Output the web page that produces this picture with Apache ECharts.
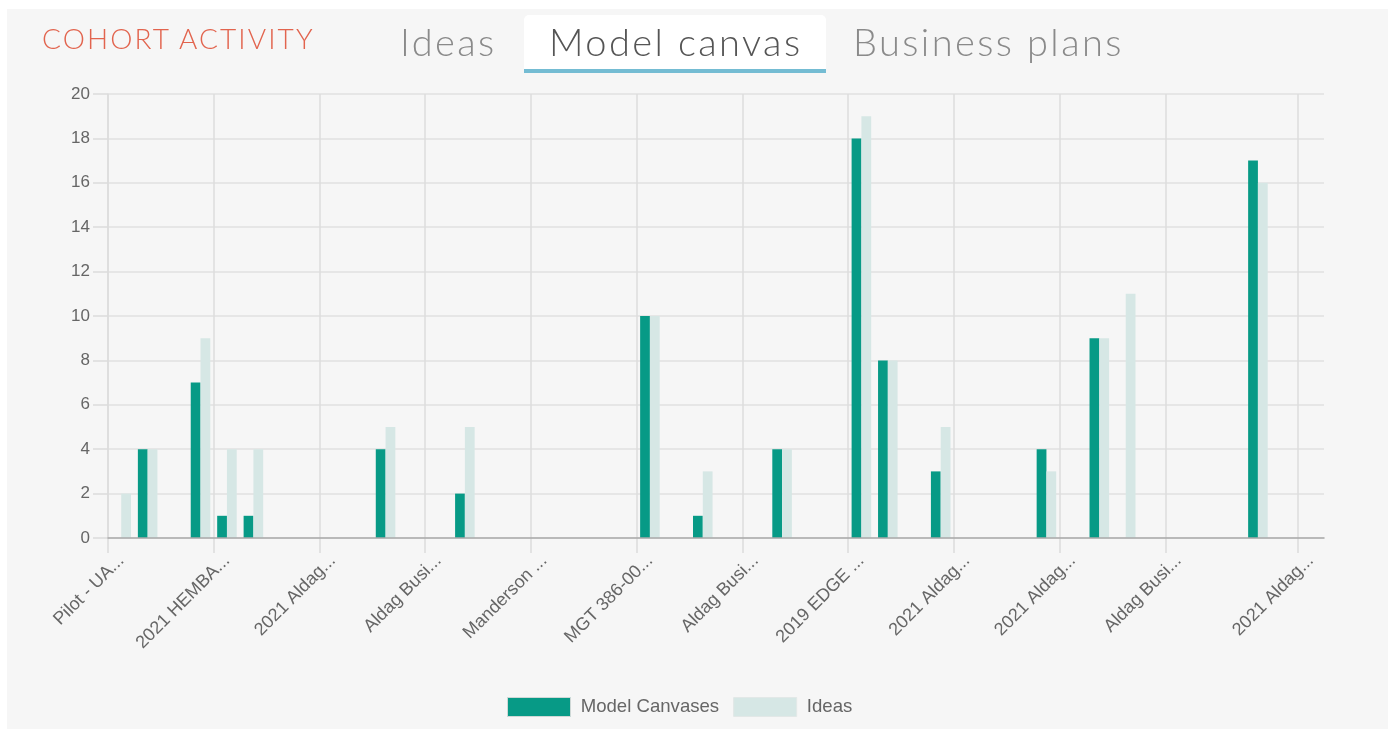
<!DOCTYPE html>
<html>
<head>
<meta charset="utf-8">
<script src="https://cdn.jsdelivr.net/npm/echarts@6/dist/echarts.min.js"></script>
<style>
  html, body { margin: 0; padding: 0; background: #ffffff; width: 1393px; height: 729px; overflow: hidden; }
  #panel { position: absolute; left: 7px; top: 9px; width: 1381px; height: 720px; background: #f6f6f6; }
  #chart { position: absolute; left: 0; top: 0; width: 1393px; height: 729px; }
  .hdr { position: absolute; font-family: Lato, "Open Sans", sans-serif; font-weight: 300; white-space: nowrap; z-index: 5; }
  #title { left: 42px; top: 22px; font-size: 28px; line-height: 32px; color: #e2644e; letter-spacing: 2.1px; }
  .tab { font-size: 38px; line-height: 44px; top: 19px; color: #8a8a8a; letter-spacing: 2.4px; }
  #tabActiveBox { position: absolute; left: 524px; top: 15px; width: 302px; height: 54px; background: #ffffff; border-radius: 5px 5px 0 0; border-bottom: 4px solid #74bcd3; z-index: 4; }
  #tabIdeas { left: 400px; }
  #tabModel { left: 549px; color: #555555; }
  #tabBiz { left: 853px; }
</style>
</head>
<body>
<div id="panel"></div>
<div id="tabActiveBox"></div>
<div class="hdr" id="title">COHORT ACTIVITY</div>
<div class="hdr tab" id="tabIdeas">Ideas</div>
<div class="hdr tab" id="tabModel">Model canvas</div>
<div class="hdr tab" id="tabBiz">Business plans</div>
<div id="chart"></div>
<script>
// ---- data ----
const categories = [
  'Pilot - UA...', '2021 Aldag...', 'Aldag Busi...', '2021 Aldag...',
  '2021 HEMBA...', '2021 Aldag...', 'Aldag Busi...', '2020 Aldag...',
  '2021 Aldag...', 'Aldag Busi...', '2021 Aldag...', '2020 EDGE ...',
  'Aldag Busi...', '2021 Aldag...', '2021 Aldag...', 'Aldag Busi...',
  'Manderson ...', '2021 Aldag...', 'Aldag Busi...', '2020 Aldag...',
  'MGT 386-00...', '2021 Aldag...', 'Aldag Busi...', '2021 Aldag...',
  'Aldag Busi...', '2021 Aldag...', '2020 EDGE ...', '2021 Aldag...',
  '2019 EDGE ...', '2021 Aldag...', 'Aldag Busi...', '2021 Aldag...',
  '2021 Aldag...', 'Aldag Busi...', '2021 Aldag...', '2021 Aldag...',
  '2021 Aldag...', 'Aldag Busi...', '2021 Aldag...', '2021 Aldag...',
  'Aldag Busi...', '2021 Aldag...', 'Aldag Busi...', '2021 Aldag...',
  'Aldag Busi...', '2021 Aldag...'
];
const modelCanvases = [
  0, 4, 0, 7, 1, 1, 0, 0, 0, 0,
  4, 0, 0, 2, 0, 0, 0, 0, 0, 0,
  10, 0, 1, 0, 0, 4, 0, 0, 18, 8,
  0, 3, 0, 0, 0, 4, 0, 9, 0, 0,
  0, 0, 0, 17, 0, 0
];
const ideas = [
  2, 4, 0, 9, 4, 4, 0, 0, 0, 0,
  5, 0, 0, 5, 0, 0, 0, 0, 0, 0,
  10, 0, 3, 0, 0, 4, 0, 0, 19, 8,
  0, 5, 0, 0, 0, 3, 0, 9, 11, 0,
  0, 0, 0, 16, 0, 0
];
const labeledIndices = [0, 4, 8, 12, 16, 20, 24, 28, 32, 36, 40, 45];
const yTicks = [0, 2, 4, 6, 8, 10, 12, 14, 16, 18, 20];

// ---- chart ----
const shown = new Set(labeledIndices);
const showFn = (i) => shown.has(i);
// boundaries between categories (one more than categories) for the vertical grid lines
const boundaries = categories.map((c, i) => i).concat([categories.length]);
const chart = echarts.init(document.getElementById('chart'), null, { renderer: 'canvas' });
const font = '"Liberation Sans", Arial, sans-serif';
const gridColor = '#dcdcdc';
chart.setOption({
  backgroundColor: 'transparent',
  animation: false,
  grid: { left: 108, right: 69, top: 94, bottom: 191, containLabel: false },
  legend: {
    left: 507, top: 697, padding: 0,
    itemWidth: 63, itemHeight: 19, itemGap: 14,
    icon: 'rect',
    formatter: (n) => ' ' + n,
    textStyle: { fontFamily: font, fontSize: 18.6, color: '#666666' },
    data: [
      { name: 'Model Canvases', itemStyle: { borderColor: '#cfd8d6', borderWidth: 1 } },
      { name: 'Ideas', itemStyle: { borderColor: '#e2e8e7', borderWidth: 1 } }
    ]
  },
  xAxis: [
    {
      type: 'category',
      data: categories,
      boundaryGap: true,
      axisLine: { show: true, lineStyle: { color: '#a9a9a9', width: 1.5 } },
      axisTick: { show: false },
      splitLine: { show: false },
      axisLabel: {
        show: true, interval: showFn, rotate: 45, margin: 20,
        fontFamily: font, fontSize: 18, color: '#666666'
      },
      z: 3
    },
    {
      type: 'category',
      data: boundaries,
      boundaryGap: false,
      position: 'bottom',
      axisLine: { show: false },
      axisLabel: { show: false },
      axisTick: { show: true, length: 15, interval: showFn, lineStyle: { color: gridColor, width: 1.5 } },
      splitLine: { show: true, interval: showFn, lineStyle: { color: gridColor, width: 1.5 } }
    }
  ],
  yAxis: {
    type: 'value',
    min: 0, max: 20, interval: 2,
    axisLine: { show: true, lineStyle: { color: gridColor, width: 1.5 } },
    axisTick: { show: true, length: 15, lineStyle: { color: gridColor, width: 1.5 } },
    splitLine: { show: true, lineStyle: { color: '#e0e0e0', width: 1.5 } },
    axisLabel: {
      margin: 18, fontFamily: font, fontSize: 17, color: '#666666',
      formatter: (v) => yTicks.includes(v) ? String(v) : ''
    }
  },
  series: [
    {
      name: 'Model Canvases', type: 'bar', data: modelCanvases, xAxisIndex: 0,
      barWidth: '37%', barGap: '0%',
      itemStyle: { color: '#079a86' }
    },
    {
      name: 'Ideas', type: 'bar', data: ideas, xAxisIndex: 0,
      barWidth: '37%', barGap: '0%',
      itemStyle: { color: '#d6e7e5' }
    }
  ]
});
</script>
</body>
</html>
